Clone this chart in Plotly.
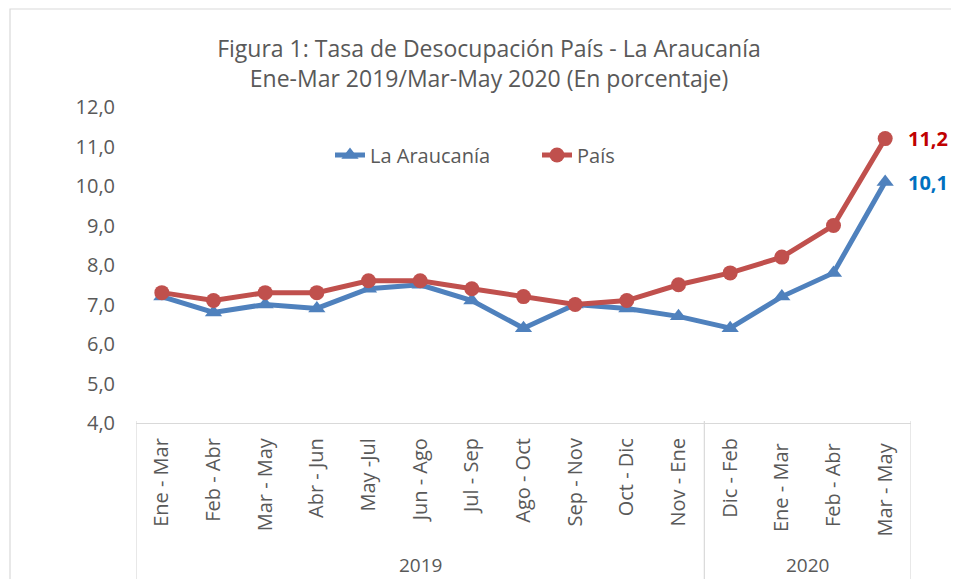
import plotly.graph_objects as go

categories = ["Ene - Mar", "Feb - Abr", "Mar - May", "Abr - Jun", "May -Jul", "Jun - Ago",
              "Jul - Sep", "Ago - Oct", "Sep - Nov", "Oct - Dic", "Nov - Ene",
              "Dic - Feb", "Ene - Mar ", "Feb - Abr ", "Mar - May "]
years = ["2019", "2020"]
year_counts = [11, 4]
araucania = [7.2, 6.8, 7.0, 6.9, 7.4, 7.5, 7.1, 6.4, 7.0, 6.9, 6.7, 6.4, 7.2, 7.8, 10.1]
pais = [7.3, 7.1, 7.3, 7.3, 7.6, 7.6, 7.4, 7.2, 7.0, 7.1, 7.5, 7.8, 8.2, 9.0, 11.2]

FONT = "Open Sans"
GREY = "#595959"
BLUE = "#4F81BD"
RED = "#C0504D"

fig = go.Figure()
fig.add_trace(go.Scatter(
    x=categories, y=araucania, name="La Araucanía", mode="lines+markers",
    line=dict(color=BLUE, width=5),
    marker=dict(symbol="triangle-up", size=15, color=BLUE),
    cliponaxis=False))
fig.add_trace(go.Scatter(
    x=categories, y=pais, name="País", mode="lines+markers",
    line=dict(color=RED, width=5),
    marker=dict(symbol="circle", size=15, color=RED),
    cliponaxis=False))

W, H = 959, 579
OFF = 8  # page body margin
PL, PR, PT, PB = 136, 911, 107, 423
L, R, T, B = PL - OFF, W - (PR - OFF), PT - OFF, H - (PB - OFF)
pw, ph = PR - PL, PB - PT

def px_x(x):
    return (x - PL) / pw

def px_y(y):
    return (PB - y) / ph

shapes = []
shapes.append(dict(type="rect", xref="paper", yref="paper",
                   x0=px_x(10), x1=px_x(985), y0=px_y(620), y1=px_y(9),
                   line=dict(color="#D9D9D9", width=1.2), layer="below"))
n = len(categories)
bounds = [0]
for c in year_counts:
    bounds.append(bounds[-1] + c)
for b in bounds:
    shapes.append(dict(type="line", xref="x", yref="paper",
                       x0=b - 0.5, x1=b - 0.5, y0=px_y(620), y1=px_y(421),
                       line=dict(color="#D9D9D9", width=1.2)))

annotations = []
for i, yname in enumerate(years):
    center = (bounds[i] + bounds[i + 1] - 1) / 2
    annotations.append(dict(x=center, y=px_y(565), xref="x", yref="paper",
                            yanchor="middle", text=yname, showarrow=False,
                            font=dict(family=FONT, size=19, color=GREY)))
for vals, col in [(pais, "#C00000"), (araucania, "#0070C0")]:
    annotations.append(dict(x=categories[-1], y=vals[-1], xref="x", yref="y",
                            xanchor="left", yanchor="middle", xshift=21,
                            text=f"<b>{vals[-1]:.1f}</b>".replace(".", ","),
                            showarrow=False,
                            font=dict(family=FONT, size=20, color=col)))

fig.update_layout(
    width=W, height=H,
    margin=dict(l=L, r=R, t=T, b=B),
    paper_bgcolor="white", plot_bgcolor="white",
    separators=",.",
    title=dict(text="Figura 1: Tasa de Desocupación País - La Araucanía<br>Ene-Mar 2019/Mar-May 2020 (En porcentaje)",
               x=px_x(489), xref="paper", xanchor="center",
               y=1 - (57 - OFF) / H, yanchor="middle",
               font=dict(family=FONT, size=23, color=GREY)),
    legend=dict(orientation="h", x=px_x(330), xanchor="left", y=px_y(155), yanchor="middle",
                font=dict(family=FONT, size=20, color=GREY), bgcolor="rgba(0,0,0,0)",
                entrywidth=162, entrywidthmode="pixels"),
    shapes=shapes, annotations=annotations,
    xaxis=dict(type="category", range=[-0.5, n - 0.5], tickangle=-90,
               showline=True, linecolor="#D9D9D9", linewidth=1.2,
               showgrid=False, ticks="", ticklabelstandoff=6,
               tickfont=dict(family=FONT, size=20, color=GREY)),
    yaxis=dict(range=[4, 12], dtick=1, tickformat=".1f", showgrid=False,
               showline=False, zeroline=False, ticks="", ticklabelstandoff=20,
               tickfont=dict(family=FONT, size=20, color=GREY)),
)

fig.write_html("out.html")
